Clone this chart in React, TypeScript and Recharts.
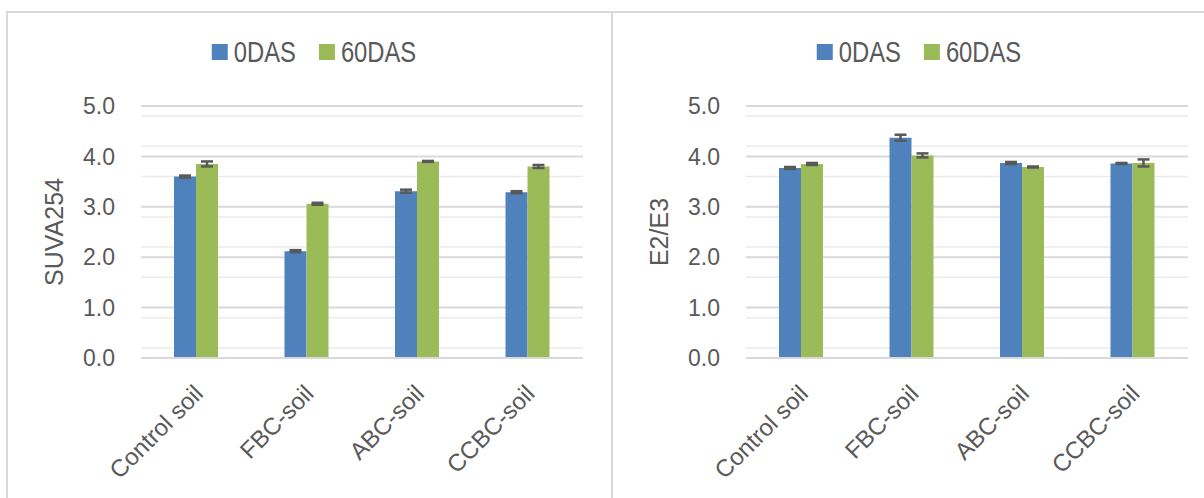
import React from "react";
import {
  BarChart,
  Bar,
  XAxis,
  YAxis,
  CartesianGrid,
  Legend,
  ErrorBar,
  Label,
} from "recharts";

const soils = ["Control soil", "FBC-soil", "ABC-soil", "CCBC-soil"];

// SUVA254 (means and error bars)
const suva0 = [3.6, 2.12, 3.31, 3.29];
const suva0Err = [0.02, 0.02, 0.03, 0.02];
const suva60 = [3.85, 3.06, 3.9, 3.8];
const suva60Err = [0.05, 0.02, 0.01, 0.03];

// E2/E3 ratio
const ratio0 = [3.77, 4.37, 3.87, 3.86];
const ratio0Err = [0.02, 0.06, 0.02, 0.01];
const ratio60 = [3.85, 4.02, 3.79, 3.87];
const ratio60Err = [0.02, 0.04, 0.01, 0.07];

const majorTicks = [0, 1, 2, 3, 4, 5];
const minorTicks = [
  0.2, 0.4, 0.6, 0.8, 1.2, 1.4, 1.6, 1.8, 2.2, 2.4, 2.6, 2.8, 3.2, 3.4, 3.6,
  3.8, 4.2, 4.4, 4.6, 4.8,
];

const BLUE = "#4f81bd";
const GREEN = "#9bbb59";
const TEXT = "#595959";
const FONT = '"Liberation Sans", Arial, sans-serif';

// no narrow face installed, so legend text is squeezed to a narrow width
const measureCtx =
  typeof document !== "undefined"
    ? document.createElement("canvas").getContext("2d")
    : null;

function textWidth(s: string, font: string) {
  if (!measureCtx) return s.length * 16;
  measureCtx.font = font;
  return measureCtx.measureText(s).width;
}

const LegendBox = (props: any) => {
  const { payload = [] } = props;
  const fs = 29;
  const squeeze = 0.82;
  const sq = 16;
  const gap = 6;
  const itemGap = 23;
  const items = payload.map((e: any) => ({
    value: String(e.value),
    color: e.color,
    w: textWidth(String(e.value), `${fs}px "Liberation Sans"`) * squeeze,
  }));
  const total =
    items.reduce((s: number, it: any) => s + sq + gap + it.w, 0) +
    itemGap * Math.max(0, items.length - 1);
  let x = 306 - total / 2;
  return (
    <svg width={603} height={34} style={{ display: "block", overflow: "visible" }}>
      {items.map((it: any) => {
        const x0 = x;
        x += sq + gap + it.w + itemGap;
        return (
          <g key={it.value}>
            <rect x={x0} y={5} width={sq} height={sq} fill={it.color} />
            <text
              x={x0 + sq + gap}
              y={23}
              fontSize={fs}
              fontFamily={FONT}
              fill={TEXT}
              textLength={it.w}
              lengthAdjust="spacingAndGlyphs"
            >
              {it.value}
            </text>
          </g>
        );
      })}
    </svg>
  );
};

const SoilTick = (props: any) => {
  const { x, y, payload } = props;
  return (
    <g transform={`translate(${x - 4},${y + 17})`}>
      <text
        transform="rotate(-45)"
        textAnchor="end"
        dy="0.72em"
        fontSize={24}
        fontFamily={FONT}
        fill={TEXT}
      >
        {payload.value}
      </text>
    </g>
  );
};

interface PanelProps {
  left: number;
  yLabel: string;
  v0: number[];
  e0: number[];
  v60: number[];
  e60: number[];
}

const Panel: React.FC<PanelProps> = ({ left, yLabel, v0, e0, v60, e60 }) => {
  const rows = soils.map((name, i) => ({
    name,
    v0: v0[i],
    e0: e0[i],
    v60: v60[i],
    e60: e60[i],
  }));

  return (
    <div
      style={{
        position: "absolute",
        left,
        top: 11,
        width: 603,
        height: 487,
        borderTop: "2px solid #d9d9d9",
        borderLeft: "2px solid #d9d9d9",
      }}
    >
      <BarChart
        width={603}
        height={485}
        data={rows}
        margin={{ top: 59, right: 28, bottom: 0, left: 0 }}
        barGap={0}
        barSize={22}
      >
        <CartesianGrid
          vertical={false}
          horizontalValues={minorTicks}
          stroke="#ebebeb"
          strokeWidth={1.5}
        />
        <CartesianGrid
          vertical={false}
          horizontalValues={majorTicks}
          stroke="#d9d9d9"
          strokeWidth={2}
        />
        <XAxis
          dataKey="name"
          interval={0}
          height={140}
          tickLine={false}
          axisLine={{ stroke: "#d9d9d9", strokeWidth: 2 }}
          tick={<SoilTick />}
        />
        <YAxis
          type="number"
          domain={[0, 5]}
          ticks={majorTicks}
          width={133}
          axisLine={false}
          tickLine={false}
          tickMargin={20}
          tickFormatter={(v: number) => v.toFixed(1)}
          tick={{ fill: TEXT, fontSize: 23, fontFamily: FONT }}
        >
          <Label
            value={yLabel}
            angle={-90}
            position="insideLeft"
            offset={46}
            style={{ textAnchor: "middle" }}
            fill={TEXT}
            fontSize={25}
            fontFamily={FONT}
          />
        </YAxis>
        <Legend
          verticalAlign="top"
          content={<LegendBox />}
          wrapperStyle={{ top: 26, left: 0, width: 603 }}
        />
        <Bar dataKey="v0" name="0DAS" fill={BLUE} isAnimationActive={false}>
          <ErrorBar dataKey="e0" width={6} strokeWidth={2.5} stroke={TEXT} />
        </Bar>
        <Bar dataKey="v60" name="60DAS" fill={GREEN} isAnimationActive={false}>
          <ErrorBar dataKey="e60" width={6} strokeWidth={2.5} stroke={TEXT} />
        </Bar>
      </BarChart>
    </div>
  );
}

export default function App() {
  return (
    <div
      style={{
        position: "fixed",
        left: 0,
        top: 0,
        width: 1204,
        height: 498,
        overflow: "hidden",
        background: "#ffffff",
      }}
    >
      <Panel left={6} yLabel="SUVA254" v0={suva0} e0={suva0Err} v60={suva60} e60={suva60Err} />
      <Panel left={611} yLabel="E2/E3" v0={ratio0} e0={ratio0Err} v60={ratio60} e60={ratio60Err} />
    </div>
  );
}
